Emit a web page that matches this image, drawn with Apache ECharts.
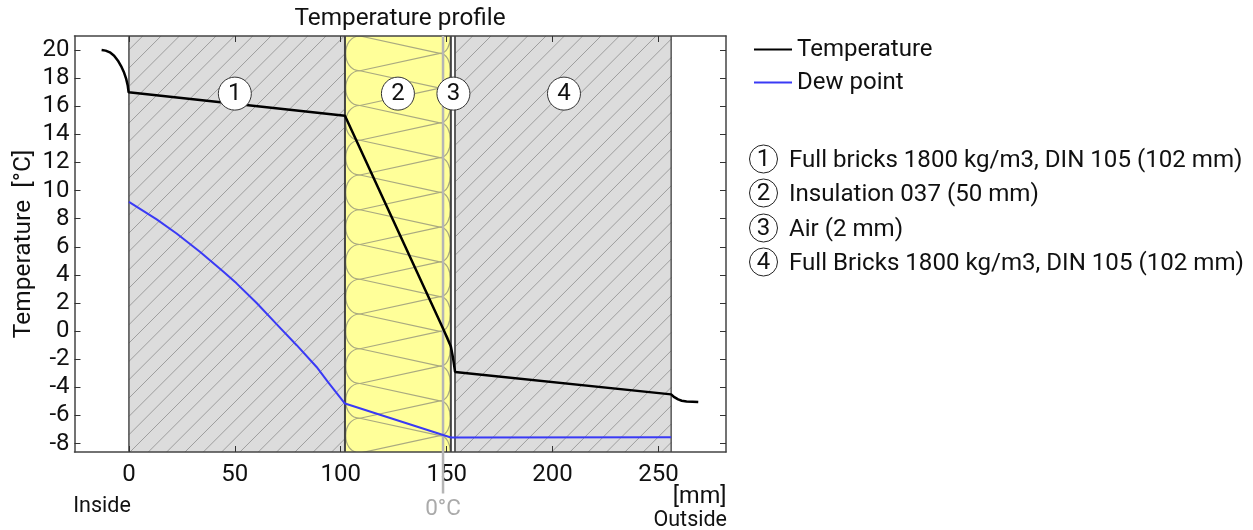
<!DOCTYPE html>
<html>
<head>
<meta charset="utf-8">
<style>html,body{margin:0;padding:0;background:#fff}#c{width:1253px;height:530px}</style>
<script src="https://cdn.jsdelivr.net/npm/echarts@6/dist/echarts.min.js"></script>
</head>
<body>
<div id="c"></div>
<script>
const xTicks = [0, 50, 100, 150, 200, 250];
const yTicks = [-8, -6, -4, -2, 0, 2, 4, 6, 8, 10, 12, 14, 16, 18, 20];
const temperature = [[-12.9,20],[-11,19.96],[-9,19.84],[-7,19.6],[-5,19.2],[-3.5,18.8],[-2.3,18.4],[-1.3,17.95],[-0.6,17.5],[-0.15,17.0],
  [0,16.9],[102,15.33],[148.3,0.19],[152,-1.1],[152.9,-1.8],[153.5,-2.4],[154,-2.9],[256,-4.5],
  [257.5,-4.7],[259.3,-4.86],[261,-4.95],[263.3,-5.0],[268.8,-5.05]];
const dewPoint = [[0,9.2],[13.1,7.95],[22.5,6.95],[33.5,5.65],[44.5,4.25],[50.8,3.4],[60.3,2.0],[69.7,0.5],[79.2,-1.0],[88.6,-2.55],[94.1,-3.65],[102,-5.15],[152,-7.57],[256,-7.55]];
const zeroLine = [[148.3,21],[148.3,-11.55]];
const layers = [[0,102,'brick'],[102,152,'insulation'],[152,154,'air'],[154,256,'brick']];
const layerMarks = [[50,16.9,'1'],[127,16.9,'2'],[153.2,16.9,'3'],[205.4,16.9,'4']];
const layerNames = ['Full bricks 1800 kg/m3, DIN 105 (102 mm)','Insulation 037 (50 mm)','Air (2 mm)','Full Bricks 1800 kg/m3, DIN 105 (102 mm)'];
const xRange = [-25.7, 281.9];
const yRange = [-8.6, 21];
const FONT = 'Roboto';

function renderLayer(params, api) {
  const a = api.coord([api.value(0), yRange[1]]);
  const b = api.coord([api.value(1), yRange[0]]);
  const kind = layers[params.dataIndex][2];
  const x0 = a[0], x1 = b[0], y0 = a[1], y1 = b[1], w = x1 - x0, h = y1 - y0;
  const kids = [];
  if (kind === 'brick') {
    kids.push({type:'rect', shape:{x:x0,y:y0,width:w,height:h}, style:{fill:'#dcdcdc'}});
    const step = 18.33;
    const phase = 582;
    const s0 = Math.ceil((x0 + y0 - phase) / step), s1 = Math.floor((x1 + y1 - phase) / step);
    for (let k = s0; k <= s1; k++) {
      const c = phase + k * step;
      let p1x = Math.max(x0, c - y1), p2x = Math.min(x1, c - y0);
      if (p2x <= p1x) continue;
      kids.push({type:'line', shape:{x1:p1x,y1:c-p1x,x2:p2x,y2:c-p2x}, style:{stroke:'#9e9e9e',lineWidth:1}});
    }
    kids.push({type:'line', shape:{x1:x0,y1:y0,x2:x0,y2:y1}, style:{stroke:'#4a4a4a',lineWidth:1.5}});
    kids.push({type:'line', shape:{x1:x1,y1:y0,x2:x1,y2:y1}, style:{stroke:'#333',lineWidth:1.2}});
  } else if (kind === 'insulation') {
    kids.push({type:'rect', shape:{x:x0,y:y0,width:w,height:h}, style:{fill:'#ffff99'}});
    const xl = x0 + 15, xr = x1 - 11, per = 34.75, st = {stroke:'#aaaa80',lineWidth:1.2,fill:'none'};
    const clip = [];
    for (let k = -1; k < 14; k++) {
      const yl = y0 + per * k, ym = yl + per / 2, yn = yl + per, yo = ym + per;
      clip.push({type:'line', shape:{x1:xl,y1:yl,x2:xr,y2:ym}, style:st});
      clip.push({type:'line', shape:{x1:xr,y1:ym,x2:xl,y2:yn}, style:st});
      clip.push({type:'bezierCurve', shape:{x1:xl,y1:yl,x2:xl,y2:yn,cpx1:xl-19,cpy1:yl,cpx2:xl-19,cpy2:yn}, style:st});
      clip.push({type:'bezierCurve', shape:{x1:xr,y1:ym,x2:xr,y2:yo,cpx1:xr+14,cpy1:ym,cpx2:xr+14,cpy2:yo}, style:st});
    }
    kids.push({type:'group', children:clip, clipPath:{type:'rect', shape:{x:x0,y:y0,width:w,height:h}}});
    kids.push({type:'line', shape:{x1:x0,y1:y0,x2:x0,y2:y1}, style:{stroke:'#444',lineWidth:2}});
  } else {
    kids.push({type:'rect', shape:{x:x0,y:y0,width:w,height:h}, style:{fill:'#fff'}});
    kids.push({type:'line', shape:{x1:x0,y1:y0,x2:x0,y2:y1}, style:{stroke:'#444',lineWidth:2}});
    kids.push({type:'line', shape:{x1:x1,y1:y0,x2:x1,y2:y1}, style:{stroke:'#444',lineWidth:1.5}});
  }
  return {type:'group', children:kids};
}

const listGraphics = [];
const listY = [159, 193, 228, 262];
layerNames.forEach((name, i) => {
  listGraphics.push({type:'circle', shape:{cx:763.5,cy:listY[i],r:14}, style:{fill:'#fff',stroke:'#222',lineWidth:1}});
  listGraphics.push({type:'text', x:763.5, y:listY[i]+1, style:{text:layerMarks[i][2],font:'24px '+FONT,fill:'#111',align:'center',verticalAlign:'middle'}});
  listGraphics.push({type:'text', x:789, y:listY[i]+2, style:{text:name,font:'24.1px '+FONT,fill:'#111',align:'left',verticalAlign:'middle'}});
});
[['Inside',102,507,'center','#111',21.5],['[mm]',726.5,497,'right','#111',23.5],['Outside',727,521,'right','#111',21.5],['0°C',443,509,'center','#aaaaaa',22.5]].forEach(t => {
  listGraphics.push({type:'text', x:t[1], y:t[2], style:{text:t[0],font:t[5]+'px '+FONT,fill:t[4],align:t[3],verticalAlign:'middle'}});
});

const tickStyle = {show:true, inside:true, length:6, lineStyle:{color:'#333',width:1}};
const lineStyleAxis = {show:true, onZero:false, lineStyle:{color:'#444',width:1.5}};
function xAxisOf(pos, labels) {
  return {type:'value', position:pos, min:xRange[0], max:xRange[1], z:3,
    axisLine:lineStyleAxis, splitLine:{show:false},
    axisTick:Object.assign({customValues:xTicks}, tickStyle),
    axisLabel:{show:labels, customValues:xTicks, fontFamily:FONT, fontSize:24, color:'#111', margin:11}};
}
function yAxisOf(pos, labels, name) {
  return {type:'value', position:pos, min:yRange[0], max:yRange[1], z:3,
    name:name, nameLocation:'middle', nameGap:38.5, nameMoveOverlap:false, nameTextStyle:{fontFamily:FONT,fontSize:24.5,color:'#111'},
    axisLine:lineStyleAxis, splitLine:{show:false},
    axisTick:Object.assign({customValues:yTicks}, tickStyle),
    axisLabel:{show:labels, customValues:yTicks, fontFamily:FONT, fontSize:24, color:'#111', margin:5}};
}

const chart = echarts.init(document.getElementById('c'), null, {renderer:'canvas'});
chart.setOption({
  animation:false,
  backgroundColor:'#fff',
  title:{text:'Temperature profile', left:395, top:2, textAlign:'center', textStyle:{fontFamily:FONT,fontSize:24.3,fontWeight:'normal',color:'#111'}},
  grid:{left:74.5, right:527, top:36, bottom:78, outerBoundsMode:'none'},
  legend:{data:['Temperature','Dew point'], orient:'vertical', left:754, top:37.5, padding:0, icon:'rect', itemWidth:38, itemHeight:2, itemGap:9, selectedMode:false,
    textStyle:{fontFamily:FONT,fontSize:24,color:'#111'}},
  xAxis:[xAxisOf('bottom',true), xAxisOf('top',false)],
  yAxis:[yAxisOf('left',true,'Temperature  [°C]'), yAxisOf('right',false,'')],
  graphic:listGraphics,
  series:[
    {type:'custom', name:'Layers', renderItem:renderLayer, z:1, clip:false, silent:true,
      encode:{x:[0,1]}, data:layers.map(l => [l[0],l[1]])},
    {type:'line', name:'0°C', data:zeroLine, clip:false, symbol:'none', z:4, silent:true, lineStyle:{color:'#b5b5b5',width:2.5}},
    {type:'line', name:'Temperature', data:temperature, symbol:'none', z:5, lineStyle:{color:'#000',width:2.5}, itemStyle:{color:'#000'}},
    {type:'line', name:'Dew point', data:dewPoint, symbol:'none', z:5, lineStyle:{color:'#3a3af5',width:2}, itemStyle:{color:'#3a3af5'}},
    {type:'scatter', name:'Marks', data:layerMarks.map(m => [m[0],m[1]]), symbolSize:33, z:6, silent:true,
      itemStyle:{color:'#fff',borderColor:'#333',borderWidth:1,opacity:1},
      label:{show:true, position:'inside', fontFamily:FONT, fontSize:24, color:'#111', formatter:p => layerMarks[p.dataIndex][2]}}
  ]
});
</script>
</body>
</html>
